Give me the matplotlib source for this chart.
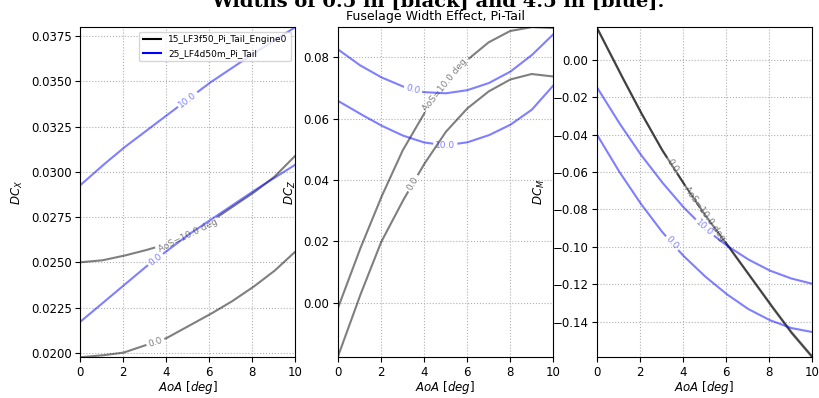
import numpy as np
import matplotlib
matplotlib.use("Agg")
import matplotlib.pyplot as plt
from matplotlib.lines import Line2D

# angle of attack grid, deg
aoa = [0, 1, 2, 3, 4, 5, 6, 7, 8, 9, 10]

# DCx
dcx_black_aos0 = [0.01975, 0.01985, 0.0200, 0.0204, 0.0208, 0.02145, 0.0221, 0.0228, 0.0236, 0.0245, 0.0256]
dcx_black_aos10 = [0.0250, 0.0251, 0.02535, 0.02565, 0.0260, 0.0265, 0.0272, 0.0280, 0.0288, 0.0297, 0.0309]
dcx_blue_aos0 = [0.0217, 0.0227, 0.0237, 0.0247, 0.0256, 0.0265, 0.0273, 0.0281, 0.0289, 0.02965, 0.0304]
dcx_blue_aos10 = [0.02925, 0.0303, 0.0313, 0.0322, 0.0331, 0.0340, 0.0349, 0.0357, 0.0365, 0.03725, 0.0380]

# DCz
dcz_black_aos0 = [-0.0178, 0.0016, 0.0195, 0.0329, 0.0450, 0.0555, 0.0632, 0.0688, 0.0727, 0.0745, 0.0737]
dcz_black_aos10 = [-0.0020, 0.0168, 0.0340, 0.0494, 0.0615, 0.0710, 0.0790, 0.0848, 0.0885, 0.0898, 0.0895]
dcz_blue_aos0 = [0.0826, 0.0775, 0.0735, 0.0705, 0.0686, 0.0682, 0.0692, 0.0715, 0.0752, 0.0806, 0.0874]
dcz_blue_aos10 = [0.0658, 0.0617, 0.0578, 0.0545, 0.0522, 0.0513, 0.0522, 0.0545, 0.0579, 0.0628, 0.0707]

# DCm
dcm_black_aos0 = [0.0175, -0.0050, -0.0270, -0.0475, -0.0655, -0.0825, -0.0980, -0.1140, -0.1300, -0.1455, -0.1590]
dcm_black_aos10 = [0.0172, -0.0053, -0.0272, -0.0476, -0.0655, -0.0824, -0.0978, -0.1137, -0.1296, -0.1450, -0.1585]
dcm_blue_aos0 = [-0.0398, -0.0590, -0.0762, -0.0915, -0.1045, -0.1155, -0.1250, -0.1330, -0.1390, -0.1433, -0.1455]
dcm_blue_aos10 = [-0.0145, -0.0330, -0.0500, -0.0650, -0.0785, -0.0900, -0.0990, -0.1065, -0.1125, -0.1168, -0.1197]

legend_labels = ["15_LF3f50_Pi_Tail_Engine0", "25_LF4d50m_Pi_Tail"]
ylabels = ["$DC_X$", "$DC_Z$", "$DC_M$"]

plt.rcParams["font.size"] = 8.5

fig = plt.figure(figsize=(8.19, 3.98), dpi=100)
lefts = [0.0977, 0.4123, 0.7286]
axes = [fig.add_axes([l, 0.1023, 0.2631, 0.8297]) for l in lefts]


def draw_labeled(ax, x, y, color, text, xpos, fs=6.5):
    """plot a line with a contour-style inline label (gap + rotated text)"""
    x = np.asarray(x, float)
    y = np.asarray(y, float)
    xy = ax.transData.transform(np.column_stack([x, y]))
    # walk along the polyline in pixel space so the gap is cut cleanly
    seg = np.hypot(*np.diff(xy, axis=0).T)
    s = np.concatenate([[0], np.cumsum(seg)])
    sd = np.linspace(0, s[-1], 800)
    px = np.interp(sd, s, xy[:, 0])
    py = np.interp(sd, s, xy[:, 1])
    c = ax.transData.transform((xpos, np.interp(xpos, x, y)))
    i = np.argmin(np.abs(px - c[0]))
    j0, j1 = max(i - 6, 0), min(i + 6, len(px) - 1)
    ang = np.degrees(np.arctan2(py[j1] - py[j0], px[j1] - px[j0]))
    if ang > 90:
        ang -= 180
    if ang < -90:
        ang += 180
    t = ax.text(xpos, np.interp(xpos, x, y), text, color=color, alpha=0.5,
                fontsize=fs, ha="center", va="center", rotation_mode="anchor")
    w = t.get_window_extent(fig.canvas.get_renderer()).width
    t.set_rotation(ang)
    d = np.hypot(px - px[i], py - py[i])
    py = np.where(d < w / 2 + 3, np.nan, py)
    data = ax.transData.inverted().transform(np.column_stack([px, np.nan_to_num(py)]))
    yy = np.where(np.isnan(py), np.nan, data[:, 1])
    ax.plot(data[:, 0], yy, color=color, alpha=0.5, lw=1.5)


panels = [
    (dcx_black_aos0, dcx_black_aos10, dcx_blue_aos0, dcx_blue_aos10),
    (dcz_black_aos0, dcz_black_aos10, dcz_blue_aos0, dcz_blue_aos10),
    (dcm_black_aos0, dcm_black_aos10, dcm_blue_aos0, dcm_blue_aos10),
]

for ax, series, ylab in zip(axes, panels, ylabels):
    allv = np.concatenate([np.asarray(v) for v in series])
    ax.set_xlim(aoa[0], aoa[-1])
    ax.set_ylim(allv.min(), allv.max())
    ax.grid(True, linestyle=":", color="#b0b0b0", linewidth=0.8)
    ax.set_xticks([0, 2, 4, 6, 8, 10])
    ax.tick_params(pad=2.5)
    ax.set_xlabel("$AoA$ [$deg$]", labelpad=0.5)
    ax.set_ylabel(ylab)
    b0, b10, u0, u10 = series
    draw_labeled(ax, aoa, b0, "black", "0.0", 3.5)
    draw_labeled(ax, aoa, b10, "black", "AoS=10.0 deg", 5.0)
    draw_labeled(ax, aoa, u0, "blue", "0.0", 3.5)
    draw_labeled(ax, aoa, u10, "blue", "10.0", 5.0)

handles = [Line2D([], [], color="black"), Line2D([], [], color="blue")]
axes[0].legend(handles, legend_labels, loc="upper right", fontsize=6.5)

fig.text(0.535, 0.983, "Widths of 0.5 in [black] and 4.5 in [blue].",
         ha="center", va="baseline", family="DejaVu Serif", weight="bold", fontsize=14)
fig.text(0.532, 0.95, "Fuselage Width Effect, Pi-Tail", ha="center", va="baseline", fontsize=9)

fig.savefig("out.png", dpi=100)
